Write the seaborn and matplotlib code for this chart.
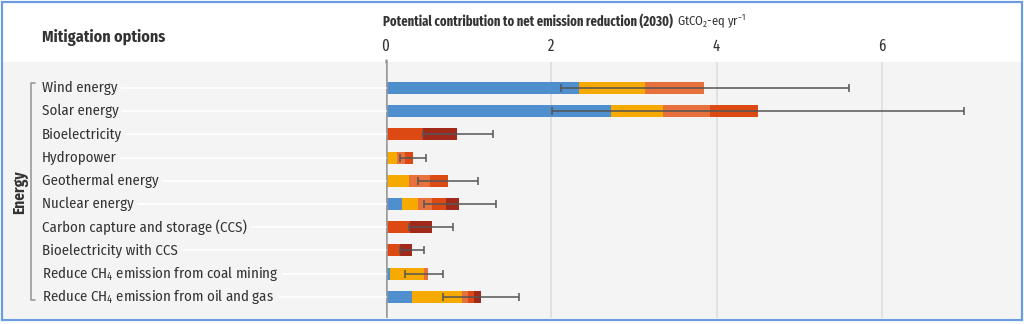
import numpy as np
import pandas as pd
import matplotlib
matplotlib.use("Agg")
import matplotlib.pyplot as plt
from matplotlib.patches import Rectangle
from matplotlib.lines import Line2D
from matplotlib import font_manager
import seaborn as sns

# ---- data -----------------------------------------------------------------
options = [
    "Wind energy",
    "Solar energy",
    "Bioelectricity",
    "Hydropower",
    "Geothermal energy",
    "Nuclear energy",
    "Carbon capture and storage (CCS)",
    "Bioelectricity with CCS",
    "Reduce CH$_4$ emission from coal mining",
    "Reduce CH$_4$ emission from oil and gas",
]

# segment widths by net lifetime cost band (GtCO2-eq/yr)
cost_below_0 = [2.34, 2.73, 0.00, 0.00, 0.00, 0.20, 0.00, 0.00, 0.06, 0.32]
cost_0_20 = [0.79, 0.62, 0.00, 0.14, 0.29, 0.19, 0.00, 0.00, 0.41, 0.61]
cost_20_50 = [0.72, 0.57, 0.00, 0.10, 0.25, 0.17, 0.00, 0.00, 0.04, 0.07]
cost_50_100 = [0.00, 0.58, 0.45, 0.09, 0.21, 0.17, 0.30, 0.18, 0.00, 0.07]
cost_100_200 = [0.00, 0.00, 0.42, 0.00, 0.00, 0.16, 0.26, 0.14, 0.00, 0.09]

# uncertainty range of the total potential
range_low = [2.12, 2.01, 0.45, 0.17, 0.39, 0.46, 0.28, 0.17, 0.23, 0.69]
range_high = [5.60, 6.99, 1.30, 0.49, 1.12, 1.33, 0.82, 0.46, 0.69, 1.61]

tick_values = [0, 2, 4, 6]
group_label = "Energy"

# ---- styling ---------------------------------------------------------------
band_colors = ["#4f8fcd", "#f6aa00", "#e8703c", "#dc4912", "#a0291a"]
bands = [cost_below_0, cost_0_20, cost_20_50, cost_50_100, cost_100_200]

installed = {f.name for f in font_manager.fontManager.ttflist}


def pick(*names):
    for n in names:
        if n in installed:
            return n
    return "DejaVu Sans"


main_font = pick("Fira Sans Condensed", "Roboto Condensed", "Lato")
tight_font = pick("Fira Sans Extra Condensed", "Fira Sans Condensed",
                  "Roboto Condensed", "Lato")

sns.set_theme(style="white")
plt.rcParams["font.family"] = [main_font, "DejaVu Sans"]
plt.rcParams["mathtext.fontset"] = "custom"
plt.rcParams["mathtext.rm"] = main_font
plt.rcParams["mathtext.it"] = main_font + ":italic"
plt.rcParams["mathtext.bf"] = main_font + ":bold"

W, H = 1024, 324
fig = plt.figure(figsize=(W / 100, H / 100), dpi=100)
fig.patch.set_facecolor("white")

# grey panel behind the rows
panel_top, panel_bottom = 62, 318
fig.add_artist(Rectangle((3 / W, 1 - panel_bottom / H), (W - 6) / W,
                         (panel_bottom - panel_top) / H,
                         transform=fig.transFigure, facecolor="#f4f4f4",
                         edgecolor="none", zorder=0))
# blue frame
fig.add_artist(Rectangle((1.5 / W, 1 - 319.5 / H), (W - 3.5) / W, 318 / H,
                         transform=fig.transFigure, facecolor="none",
                         edgecolor="#6b9be0", lw=1.6, zorder=10))

# main axes: x = 0 at pixel 385.5, 82.75 px per unit
x0_px, px_per_unit = 385.5, 82.75
ax_right_px = 1020
ax = fig.add_axes([x0_px / W, 1 - panel_bottom / H,
                   (ax_right_px - x0_px) / W, (panel_bottom - panel_top) / H])
ax.set_facecolor("none")
xmax = (ax_right_px - x0_px) / px_per_unit

row0_px, row_step = 88, 23.2
y_top = (panel_top - row0_px) / row_step
y_bot = (panel_bottom - row0_px) / row_step

df = pd.DataFrame({"option": options})
cums = np.cumsum(np.array(bands), axis=0)

# stacked bars: draw cumulative totals from largest to smallest
for cvals, col in reversed(list(zip(cums, band_colors))):
    d = df.assign(value=cvals)
    sns.barplot(data=d, x="value", y="option", orient="h", color=col,
                width=0.52, saturation=1, errorbar=None, ax=ax,
                linewidth=0, zorder=3)

# uncertainty ranges
lo = np.array(range_low)
hi = np.array(range_high)
ax.errorbar((lo + hi) / 2, np.arange(len(options)), xerr=(hi - lo) / 2,
            fmt="none", ecolor="#555555", elinewidth=1.1, capsize=3.2,
            capthick=1.1, zorder=5)

ax.set_xlim(0, xmax)
ax.set_ylim(y_bot, y_top)
ax.set_xlabel("")
ax.set_ylabel("")
ax.set_yticks([])
ax.set_xticks([])
for s in ax.spines.values():
    s.set_visible(False)

# vertical grid and zero line
for t in tick_values[1:]:
    ax.axvline(t, color="#dedede", lw=1.2, zorder=1)
ax.axvline(0, color="#9a9a9a", lw=1.8, zorder=6)
ax.plot([0, 0], [y_top, y_top - 0.1], color="#9a9a9a", lw=1.8,
        clip_on=False, zorder=6)

# tick labels above the panel
for t in tick_values:
    fig.text((x0_px + t * px_per_unit) / W, 1 - 46 / H, str(t),
             ha="center", va="center", fontsize=11.5, color="#333333",
             family=[tight_font, "DejaVu Sans"])

# headers
fig.text(42 / W, 1 - 38 / H, "Mitigation options", ha="left", va="center",
         fontsize=11.5, fontweight="bold", color="#333333")
t1 = fig.text(383 / W, 1 - 21 / H,
              "Potential contribution to net emission reduction (2030)",
              ha="left", va="center", fontsize=11, fontweight="bold",
              color="#333333", family=[tight_font, "DejaVu Sans"])
fig.canvas.draw()
bb = t1.get_window_extent()
scale = 288 / max(bb.width, 1)
if abs(scale - 1) > 0.02:
    t1.set_fontsize(11 * scale)
    fig.canvas.draw()
    bb = t1.get_window_extent()
fig.text((bb.x1 + 4) / W, 1 - 21 / H, "GtCO$_2$-eq yr$^{-1}$",
         ha="left", va="center", fontsize=9, color="#333333")

# row labels with faint leader lines to the axis
for i, name in enumerate(options):
    ypx = row0_px + i * row_step
    yf = 1 - ypx / H
    fig.add_artist(Line2D([40 / W, x0_px / W], [yf, yf],
                          transform=fig.transFigure, color="white",
                          lw=1.2, zorder=1))
    fig.text(42 / W, yf, name, ha="left", va="center", fontsize=10.7,
             color="#333333", zorder=2,
             bbox=dict(boxstyle="square,pad=0.25", facecolor="#f4f4f4",
                       edgecolor="none"))

# group bracket
bx = 31
top_px, bot_px = 83, 300
fig.add_artist(Line2D([(bx + 4) / W, bx / W, bx / W, (bx + 4) / W],
                      [1 - top_px / H, 1 - top_px / H, 1 - bot_px / H,
                       1 - bot_px / H],
                      transform=fig.transFigure, color="#9a9a9a", lw=1.2,
                      zorder=3))
fig.text(20 / W, 1 - 192 / H, group_label, rotation=90, ha="center",
         va="center", fontsize=11, fontweight="bold", color="#333333")

fig.savefig("out.png", dpi=100, facecolor="white")
